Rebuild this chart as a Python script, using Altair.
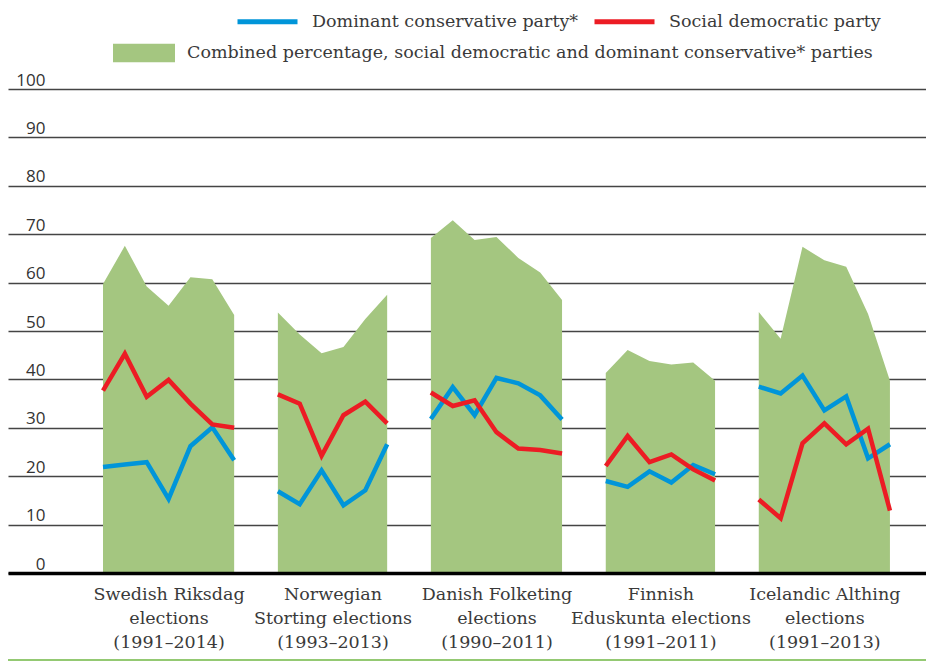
import json
import altair as alt
import pandas as pd

# ---- data ----
countries = ["Sweden", "Norway", "Denmark", "Finland", "Iceland"]
years = {
    "Sweden": [1991, 1994, 1998, 2002, 2006, 2010, 2014],
    "Norway": [1993, 1997, 2001, 2005, 2009, 2013],
    "Denmark": [1990, 1994, 1998, 2001, 2005, 2007, 2011],
    "Finland": [1991, 1995, 1999, 2003, 2007, 2011],
    "Iceland": [1991, 1995, 1999, 2003, 2007, 2009, 2013],
}
conservative = {
    "Sweden": [21.9, 22.4, 22.9, 15.3, 26.2, 30.1, 23.3],
    "Norway": [16.9, 14.2, 21.2, 14.0, 17.1, 26.6],
    "Denmark": [31.8, 38.4, 32.6, 40.3, 39.2, 36.7, 31.7],
    "Finland": [19.0, 17.8, 21.0, 18.7, 22.3, 20.4],
    "Iceland": [38.5, 37.1, 40.8, 33.6, 36.5, 23.7, 26.6],
}
social_dem = {
    "Sweden": [37.7, 45.3, 36.4, 39.9, 35.0, 30.7, 30.0],
    "Norway": [36.9, 35.0, 24.2, 32.6, 35.4, 30.9],
    "Denmark": [37.3, 34.5, 35.7, 29.1, 25.7, 25.4, 24.7],
    "Finland": [22.1, 28.3, 22.9, 24.5, 21.4, 19.1],
    "Iceland": [15.2, 11.3, 26.8, 30.9, 26.6, 29.8, 12.9],
}
combined = {
    "Sweden": [59.7, 67.6, 59.2, 55.2, 61.1, 60.7, 53.3],
    "Norway": [53.8, 49.3, 45.4, 46.7, 52.5, 57.5],
    "Denmark": [69.2, 72.9, 68.8, 69.4, 65.1, 62.1, 56.4],
    "Finland": [41.3, 46.1, 43.8, 43.1, 43.5, 39.7],
    "Iceland": [53.9, 48.4, 67.4, 64.6, 63.3, 53.5, 39.7],
}
group_labels = [
    ["Swedish Riksdag", "elections", "(1991–2014)"],
    ["Norwegian", "Storting elections", "(1993–2013)"],
    ["Danish Folketing", "elections", "(1990–2011)"],
    ["Finnish", "Eduskunta elections", "(1991–2011)"],
    ["Icelandic Althing", "elections", "(1991–2013)"],
]
CONS = "Dominant conservative party*"
SD = "Social democratic party"
COMB = "Combined percentage, social democratic and dominant conservative* parties"
y_ticks = list(range(0, 101, 10))

# ---- build tables (one empty slot between groups) ----
line_rows, area_rows, centers = [], [], []
slot = 0
for c in countries:
    n = len(years[c])
    centers.append(slot + (n - 1) / 2)
    for i in range(n):
        s = slot + i
        line_rows.append({"country": c, "year": years[c][i], "slot": s, "series": CONS, "value": conservative[c][i]})
        line_rows.append({"country": c, "year": years[c][i], "slot": s, "series": SD, "value": social_dem[c][i]})
        area_rows.append({"country": c, "year": years[c][i], "slot": s, "series": COMB, "value": combined[c][i]})
    slot += n + 1
lines_df = pd.DataFrame(line_rows)
area_df = pd.DataFrame(area_rows)

label_expr = " : ".join(
    f"datum.value == {ctr} ? {json.dumps(lbl, ensure_ascii=False)}" for ctr, lbl in zip(centers, group_labels)
) + " : ''"

SERIF = "DejaVu Serif"
SANS = "Open Sans"
W, H = 918, 484

x_scale = alt.Scale(domain=[-4.346, 37.65], nice=False, zero=False)
y_scale = alt.Scale(domain=[0, 100], nice=False)

x_axis = alt.Axis(
    values=centers, labelExpr=label_expr, title=None, grid=False, ticks=False, tickSize=0,
    domain=True, domainColor="#000000", domainWidth=3.5, labelFont=SERIF, labelFontSize=17.5,
    labelColor="#3a3a3a", labelLineHeight=24, labelBaseline="top", labelPadding=12,
    labelAlign="center", labelOverlap=False, labelFlush=False, labelBound=False, zindex=1,
)
y_axis = alt.Axis(
    values=y_ticks, title=None, domain=False, ticks=False, tickSize=0, grid=True,
    gridColor="#444444", gridWidth=1.4, labelFont=SANS, labelFontSize=17, labelColor="#333333",
    labelAlign="right", labelBaseline="bottom", labelPadding=-37, zindex=0,
)

area = alt.Chart(area_df).mark_area(opacity=1, interpolate="linear").encode(
    x=alt.X("slot:Q", scale=x_scale, axis=x_axis),
    y=alt.Y("value:Q", scale=y_scale, axis=y_axis, stack=None),
    detail="country:N",
    fill=alt.Fill(
        "series:N",
        scale=alt.Scale(domain=[COMB], range=["#a4c680"]),
        legend=alt.Legend(
            title=None, orient="none", legendX=105, legendY=-67, direction="horizontal",
            symbolType="M-1,-0.3L1,-0.3L1,0.3L-1,0.3Z", symbolSize=3844, symbolOpacity=1,
            symbolStrokeWidth=0, labelFont=SERIF, labelFontSize=17.5, labelColor="#3a3a3a",
            labelLimit=900, labelOffset=12, padding=0,
        ),
    ),
)

lines = alt.Chart(lines_df).mark_line(strokeWidth=4.5, interpolate="linear").encode(
    x=alt.X("slot:Q", scale=x_scale),
    y=alt.Y("value:Q", scale=y_scale, stack=None),
    detail="country:N",
    color=alt.Color(
        "series:N",
        scale=alt.Scale(domain=[CONS, SD], range=["#0095d9", "#ec1c24"]),
        legend=alt.Legend(
            title=None, orient="none", legendX=227, legendY=-100, direction="horizontal",
            symbolType="stroke", symbolSize=3600, symbolStrokeWidth=5, labelFont=SERIF,
            labelFontSize=17.5, labelColor="#3a3a3a", labelLimit=900, labelOffset=12,
            columnPadding=5, padding=0,
        ),
    ),
)

bottom_rule = alt.Chart(pd.DataFrame({"k": [0]})).mark_rule(color="#94c973", strokeWidth=2).encode(
    x=alt.value(-10), x2=alt.value(W + 10), y=alt.value(H + 87)
)

chart = alt.layer(area, lines, bottom_rule).resolve_scale(color="independent").properties(
    width=W, height=H,
    autosize=alt.AutoSizeParams(type="none"),
    padding={"left": 0, "top": 81, "right": 0, "bottom": 89},
).configure_view(stroke=None).configure_legend(padding=0)

chart.save("out.html", embed_options={"renderer": "svg", "actions": False})
